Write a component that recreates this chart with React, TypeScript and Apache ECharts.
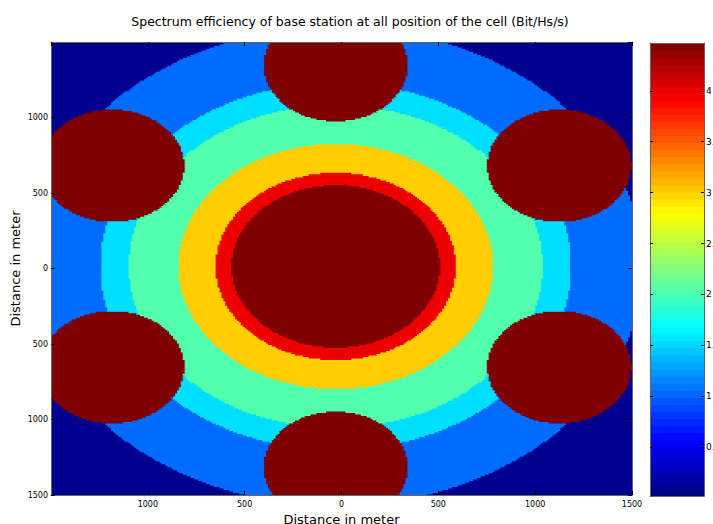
import React, { useEffect, useRef } from "react";
import * as echarts from "echarts";

// ---- data (metres, Bit/Hz/s) ----
const titleText = "Spectrum efficiency of base station at all position of the cell (Bit/Hs/s)";
const axisName = "Distance in meter";
const areaMin = -1500;
const areaMax = 1500;
const gridStep = 10; // sampling step of the map, metres

// serving base station and its six neighbours (centres, metres)
const servingBS = [-30, 20];
const neighbourBS = [
  [-30, 1353],
  [1124, 687],
  [1124, -647],
  [-30, -1313],
  [-1184, -647],
  [-1184, 687],
];
const neighbourRadius = 372;
const neighbourSE = 4.47;

// concentric zones around the serving station: outer radius and efficiency
const zoneRadius = [538, 620, 812, 1068, 1215, 1585];
const zoneSE = [4.47, 3.99, 3.02, 2.05, 1.55, 1.05];
const edgeSE = 0.09;

// colour bar
const cbMin = 0.02;
const cbMax = 4.47;
const cbSteps = 64;
const cbTicks = [0.5, 1, 1.5, 2, 2.5, 3, 3.5, 4];
const jetColors = [
  "#00007F", "#0000FF", "#007FFF", "#00FFFF", "#7FFF7F",
  "#FFFF00", "#FF7F00", "#FF0000", "#7F0000",
];

function seAt(x: number, y: number): number {
  for (const n of neighbourBS) {
    if (Math.hypot(x - n[0], y - n[1]) <= neighbourRadius) return neighbourSE;
  }
  const r = Math.hypot(x - servingBS[0], y - servingBS[1]);
  for (let i = 0; i < zoneRadius.length; i++) {
    if (r <= zoneRadius[i]) return zoneSE[i];
  }
  return edgeSE;
}

function buildRuns(): number[][] {
  const runs: number[][] = [];
  const n = Math.round((areaMax - areaMin) / gridStep);
  for (let j = 0; j < n; j++) {
    const yc = areaMin + gridStep * (j + 0.5);
    let start = areaMin;
    let cur = seAt(areaMin + gridStep / 2, yc);
    for (let i = 1; i <= n; i++) {
      const xl = areaMin + gridStep * i;
      const v = i < n ? seAt(xl + gridStep / 2, yc) : NaN;
      if (v !== cur) {
        runs.push([start, xl, yc, cur]);
        start = xl;
        cur = v;
      }
    }
  }
  return runs;
}

function buildColorbar(): number[][] {
  const out: number[][] = [];
  for (let i = 0; i < cbSteps; i++) {
    const v0 = cbMin + ((cbMax - cbMin) * i) / cbSteps;
    const v1 = cbMin + ((cbMax - cbMin) * (i + 1)) / cbSteps;
    out.push([v0, v1, 0.5, (v0 + v1) / 2]);
  }
  return out;
}

const FONT = "DejaVu Sans, Verdana, sans-serif";
const frame = { show: true, onZero: false, lineStyle: { color: "#666", width: 1 } };

export default function App() {
  const ref = useRef<HTMLDivElement>(null);
  useEffect(() => {
    if (!ref.current) return;
    const chart = echarts.init(ref.current, null, { renderer: "svg" });
    const runs = buildRuns();
    const cb = buildColorbar();
    const absFmt = (v: number) => String(Math.abs(v));

    chart.setOption({
      animation: false,
      textStyle: { fontFamily: FONT },
      graphic: [
        {
          type: "text",
          x: 350,
          y: 21,
          style: {
            text: titleText,
            fill: "#000",
            font: `12.5px ${FONT}`,
            textAlign: "center",
            textVerticalAlign: "middle",
          },
        },
      ],
      grid: [
        { left: 51, right: 81, top: 42, bottom: 29, containLabel: false, outerBoundsMode: "none" },
        { left: 650, right: 9, top: 43, bottom: 28, containLabel: false, outerBoundsMode: "none" },
      ],
      visualMap: {
        type: "continuous",
        show: false,
        min: cbMin,
        max: cbMax,
        dimension: 3,
        seriesIndex: [0, 1],
        inRange: { color: jetColors },
      },
      xAxis: [
        {
          gridIndex: 0,
          type: "value",
          position: "bottom",
          min: areaMin,
          max: areaMax,
          interval: 500,
          z: 10,
          axisLine: frame,
          axisTick: { inside: true, length: 4, lineStyle: { color: "#000" } },
          axisLabel: {
            formatter: absFmt,
            showMinLabel: false,
            fontSize: 8,
            color: "#000",
            margin: 5,
            fontFamily: FONT,
          },
          splitLine: { show: false },
          name: axisName,
          nameLocation: "middle",
          nameGap: 18,
          nameTextStyle: { fontSize: 13, color: "#000", fontFamily: FONT, verticalAlign: "top" },
        },
        {
          gridIndex: 0,
          type: "value",
          position: "top",
          min: areaMin,
          max: areaMax,
          interval: 500,
          z: 10,
          axisLine: frame,
          axisTick: { inside: true, length: 4, lineStyle: { color: "#000" } },
          axisLabel: { show: false },
          splitLine: { show: false },
        },
        {
          gridIndex: 1,
          type: "value",
          position: "bottom",
          min: 0,
          max: 1,
          z: 10,
          axisLine: frame,
          axisTick: { show: false },
          axisLabel: { show: false },
          splitLine: { show: false },
        },
        {
          gridIndex: 1,
          type: "value",
          position: "top",
          min: 0,
          max: 1,
          z: 10,
          axisLine: frame,
          axisTick: { show: false },
          axisLabel: { show: false },
          splitLine: { show: false },
        },
      ],
      yAxis: [
        {
          gridIndex: 0,
          type: "value",
          position: "left",
          min: areaMin,
          max: areaMax,
          interval: 500,
          z: 10,
          axisLine: frame,
          axisTick: { inside: true, length: 4, lineStyle: { color: "#000" } },
          axisLabel: {
            formatter: absFmt,
            showMaxLabel: false,
            fontSize: 8,
            color: "#000",
            margin: 3,
            fontFamily: FONT,
          },
          splitLine: { show: false },
          name: axisName,
          nameLocation: "middle",
          nameGap: 29,
          nameMoveOverlap: false,
          nameTextStyle: { fontSize: 13, color: "#000", fontFamily: FONT },
        },
        {
          gridIndex: 0,
          type: "value",
          position: "right",
          min: areaMin,
          max: areaMax,
          interval: 500,
          z: 10,
          axisLine: frame,
          axisTick: { inside: true, length: 4, lineStyle: { color: "#000" } },
          axisLabel: { show: false },
          splitLine: { show: false },
        },
        {
          gridIndex: 1,
          type: "value",
          position: "right",
          min: cbMin,
          max: cbMax,
          splitNumber: 9,
          z: 10,
          axisLine: frame,
          axisTick: { inside: true, length: 3, lineStyle: { color: "#000" }, customValues: cbTicks },
          axisLabel: {
            customValues: cbTicks,
            fontSize: 9,
            color: "#000",
            margin: 2,
            fontFamily: FONT,
          },
          splitLine: { show: false },
        },
        {
          gridIndex: 1,
          type: "value",
          position: "left",
          min: cbMin,
          max: cbMax,
          splitNumber: 9,
          z: 10,
          axisLine: frame,
          axisTick: { inside: true, length: 3, lineStyle: { color: "#000" }, customValues: cbTicks },
          axisLabel: { show: false },
          splitLine: { show: false },
        },
      ],
      series: [
        {
          type: "custom",
          xAxisIndex: 0,
          yAxisIndex: 0,
          clip: true,
          silent: true,
          encode: { x: [0, 1], y: 2 },
          data: runs,
          renderItem: (_p: any, api: any) => {
            const a = api.coord([api.value(0), api.value(2) + gridStep / 2]);
            const b = api.coord([api.value(1), api.value(2) - gridStep / 2]);
            return {
              type: "rect",
              shape: { x: a[0], y: a[1], width: b[0] - a[0] + 1, height: b[1] - a[1] + 1 },
              style: { fill: api.visual("color") },
            };
          },
        },
        {
          type: "custom",
          xAxisIndex: 2,
          yAxisIndex: 2,
          clip: true,
          silent: true,
          encode: { x: 2, y: [0, 1] },
          data: cb,
          renderItem: (_p: any, api: any) => {
            const a = api.coord([0, api.value(1)]);
            const b = api.coord([1, api.value(0)]);
            return {
              type: "rect",
              shape: { x: a[0], y: a[1], width: b[0] - a[0], height: b[1] - a[1] + 1 },
              style: { fill: api.visual("color") },
            };
          },
        },
      ],
    });
    return () => chart.dispose();
  }, []);
  return (
    <div
      ref={ref}
      style={{ position: "absolute", left: 0, top: 0, width: 713, height: 524 }}
    />
  );
}
